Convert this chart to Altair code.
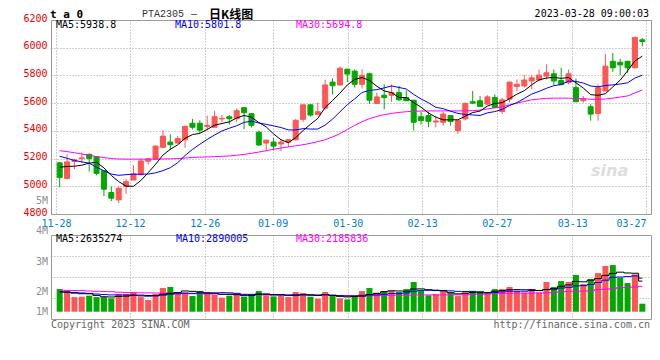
import altair as alt
import pandas as pd

# ---------------- data ----------------
opens = [5169, 5057, 5179, 5200, 5231, 5214, 5112, 4955, 4902, 4998,
         5045, 5083, 5181, 5195, 5281, 5319, 5312, 5336, 5455, 5455,
         5431, 5426, 5486, 5502, 5488, 5567, 5524, 5390, 5312, 5319,
         5305, 5319, 5336, 5483, 5588, 5519, 5564, 5752, 5731, 5845,
         5831, 5736, 5812, 5598, 5657, 5657, 5676, 5640, 5621, 5502,
         5510, 5464, 5462, 5510, 5402, 5486, 5610, 5617, 5593, 5640,
         5540, 5629, 5721, 5724, 5760, 5767, 5795, 5812, 5764, 5748,
         5712, 5617, 5574, 5526, 5688, 5902, 5895, 5902, 5855, 6057]
highs = [5175, 5231, 5200, 5245, 5235, 5219, 5115, 5000, 5000, 5055,
         5152, 5200, 5200, 5295, 5405, 5376, 5362, 5436, 5486, 5476,
         5510, 5545, 5514, 5514, 5562, 5570, 5527, 5402, 5335, 5350,
         5340, 5340, 5486, 5590, 5590, 5605, 5769, 5779, 5862, 5848,
         5843, 5843, 5819, 5676, 5736, 5736, 5724, 5693, 5624, 5538,
         5538, 5510, 5538, 5512, 5476, 5605, 5688, 5652, 5657, 5664,
         5640, 5755, 5771, 5802, 5802, 5843, 5879, 5843, 5855, 5843,
         5779, 5652, 5593, 5736, 5955, 5962, 5921, 5905, 6081, 6069]
lows = [4993, 5050, 5124, 5167, 5107, 5079, 4929, 4893, 4879, 4945,
        5045, 5080, 5157, 5190, 5280, 5262, 5310, 5279, 5410, 5381,
        5402, 5421, 5462, 5445, 5462, 5412, 5424, 5290, 5260, 5260,
        5255, 5283, 5331, 5462, 5502, 5514, 5552, 5662, 5728, 5752,
        5712, 5705, 5593, 5593, 5555, 5610, 5617, 5615, 5402, 5445,
        5426, 5426, 5438, 5438, 5379, 5474, 5593, 5574, 5588, 5567,
        5521, 5605, 5688, 5712, 5700, 5760, 5771, 5729, 5731, 5736,
        5608, 5605, 5474, 5474, 5686, 5826, 5802, 5819, 5852, 6010]
closes = [5064, 5176, 5190, 5205, 5200, 5093, 4979, 4914, 4986, 5033,
          5090, 5183, 5198, 5290, 5362, 5300, 5345, 5433, 5426, 5405,
          5440, 5502, 5490, 5488, 5545, 5531, 5440, 5298, 5333, 5290,
          5319, 5336, 5476, 5588, 5514, 5538, 5731, 5726, 5852, 5810,
          5736, 5800, 5621, 5645, 5640, 5676, 5624, 5617, 5462, 5474,
          5469, 5471, 5521, 5467, 5474, 5598, 5600, 5576, 5645, 5569,
          5624, 5752, 5736, 5767, 5783, 5802, 5819, 5760, 5733, 5812,
          5610, 5629, 5521, 5712, 5867, 5855, 5876, 5855, 6074, 6045]
ma5 = [5138, 5143, 5145, 5152, 5167, 5173, 5133, 5078, 5034, 5001,
       5000, 5041, 5098, 5159, 5225, 5267, 5299, 5346, 5373, 5382,
       5410, 5441, 5453, 5465, 5493, 5511, 5499, 5460, 5429, 5378,
       5336, 5315, 5351, 5402, 5447, 5490, 5569, 5619, 5672, 5731,
       5771, 5785, 5764, 5722, 5688, 5676, 5641, 5640, 5604, 5571,
       5529, 5499, 5479, 5480, 5480, 5506, 5532, 5543, 5579, 5598,
       5603, 5633, 5665, 5690, 5732, 5768, 5781, 5786, 5779, 5785,
       5747, 5709, 5661, 5657, 5668, 5717, 5766, 5833, 5905, 5939]
ma10 = [5217, 5202, 5186, 5176, 5167, 5138, 5112, 5088, 5079, 5084,
        5087, 5087, 5088, 5097, 5113, 5134, 5170, 5222, 5266, 5303,
        5338, 5370, 5399, 5419, 5437, 5461, 5470, 5457, 5447, 5436,
        5424, 5407, 5406, 5416, 5413, 5413, 5442, 5485, 5537, 5589,
        5631, 5677, 5692, 5697, 5710, 5724, 5713, 5702, 5663, 5630,
        5603, 5570, 5560, 5542, 5526, 5518, 5515, 5511, 5530, 5539,
        5555, 5583, 5604, 5634, 5665, 5685, 5707, 5726, 5735, 5759,
        5757, 5745, 5724, 5718, 5727, 5732, 5738, 5747, 5781, 5802]
ma30 = [5257, 5250, 5242, 5233, 5224, 5214, 5207, 5200, 5197, 5196,
        5196, 5196, 5196, 5196, 5197, 5198, 5200, 5204, 5208, 5210,
        5212, 5214, 5216, 5219, 5224, 5230, 5238, 5247, 5257, 5267,
        5276, 5284, 5292, 5300, 5310, 5322, 5336, 5356, 5380, 5410,
        5440, 5466, 5488, 5504, 5517, 5526, 5533, 5538, 5541, 5543,
        5544, 5544, 5544, 5544, 5544, 5545, 5546, 5550, 5558, 5566,
        5574, 5588, 5600, 5612, 5624, 5630, 5634, 5636, 5636, 5636,
        5634, 5632, 5628, 5627, 5630, 5636, 5644, 5652, 5674, 5695]
# volume in millions of lots
volume_m = [1.95, 1.84, 1.26, 1.29, 1.38, 1.26, 1.26, 1.15, 1.52, 1.52,
            1.70, 1.26, 1.01, 1.52, 2.04, 2.13, 1.58, 1.67, 1.35, 1.78,
            1.70, 1.44, 1.21, 1.38, 1.61, 1.29, 1.52, 1.78, 1.41, 1.32,
            1.35, 1.26, 1.70, 1.61, 1.29, 1.12, 1.70, 1.35, 1.15, 1.06,
            1.35, 1.78, 2.04, 1.64, 1.78, 1.78, 1.70, 1.95, 2.56, 1.84,
            1.41, 1.52, 1.78, 1.64, 1.35, 1.67, 1.78, 1.70, 1.70, 1.95,
            1.95, 2.13, 1.78, 1.64, 1.95, 1.64, 2.56, 2.13, 2.64, 2.56,
            3.16, 2.39, 2.82, 3.33, 3.94, 4.02, 2.93, 2.47, 3.22, 0.69]
vol_ma5 = [1.70, 1.68, 1.60, 1.55, 1.544, 1.406, 1.29, 1.268, 1.314, 1.342,
           1.43, 1.43, 1.402, 1.402, 1.506, 1.592, 1.656, 1.788, 1.754, 1.702,
           1.616, 1.588, 1.496, 1.502, 1.468, 1.386, 1.402, 1.516, 1.522, 1.464,
           1.476, 1.424, 1.408, 1.448, 1.442, 1.396, 1.484, 1.414, 1.322, 1.276,
           1.322, 1.338, 1.476, 1.574, 1.718, 1.804, 1.788, 1.77, 1.954, 1.966,
           1.892, 1.856, 1.822, 1.638, 1.54, 1.592, 1.644, 1.628, 1.64, 1.76,
           1.816, 1.886, 1.902, 1.89, 1.89, 1.828, 1.914, 1.984, 2.184, 2.306,
           2.61, 2.576, 2.714, 2.852, 3.128, 3.30, 3.408, 3.338, 3.316, 2.635]
vol_ma10 = [1.72, 1.70, 1.66, 1.62, 1.58, 1.52, 1.48, 1.45, 1.44, 1.443,
            1.418, 1.36, 1.335, 1.358, 1.424, 1.511, 1.543, 1.595, 1.578, 1.604,
            1.604, 1.622, 1.642, 1.628, 1.585, 1.501, 1.495, 1.506, 1.512, 1.466,
            1.431, 1.413, 1.462, 1.485, 1.453, 1.436, 1.454, 1.411, 1.385, 1.359,
            1.359, 1.411, 1.445, 1.448, 1.497, 1.563, 1.563, 1.623, 1.764, 1.842,
            1.848, 1.822, 1.796, 1.796, 1.753, 1.742, 1.75, 1.725, 1.639, 1.65,
            1.704, 1.765, 1.765, 1.765, 1.825, 1.822, 1.90, 1.943, 2.037, 2.098,
            2.219, 2.245, 2.349, 2.518, 2.717, 2.955, 2.992, 3.026, 3.084, 2.890]
vol_ma30 = [1.84, 1.84, 1.83, 1.82, 1.78, 1.76, 1.74, 1.72, 1.68, 1.66,
            1.64, 1.63, 1.62, 1.61, 1.60, 1.59, 1.57, 1.56, 1.55, 1.54,
            1.53, 1.52, 1.51, 1.50, 1.48, 1.47, 1.46, 1.45, 1.45, 1.44,
            1.44, 1.43, 1.43, 1.43, 1.42, 1.42, 1.42, 1.41, 1.40, 1.38,
            1.37, 1.37, 1.37, 1.38, 1.39, 1.41, 1.42, 1.43, 1.44, 1.45,
            1.45, 1.45, 1.45, 1.45, 1.45, 1.46, 1.48, 1.50, 1.52, 1.56,
            1.58, 1.59, 1.60, 1.60, 1.61, 1.62, 1.63, 1.65, 1.72, 1.75,
            1.76, 1.78, 1.80, 1.90, 1.94, 1.98, 2.08, 2.10, 2.13, 2.19]

# legend texts as printed in the reference
price_legend = ["MA5:5938.8", "MA10:5801.8", "MA30:5694.8"]
volume_legend = ["MA5:2635274", "MA10:2890005", "MA30:2185836"]

date_ticks = [-0.5, 9.54, 19.67, 28.87, 39.06, 49.14, 59.27, 69.5, 79.5]
date_labels = ["11-28", "12-12", "12-26", "01-09", "01-30", "02-13", "02-27", "03-13", "03-27"]
price_ticks = [4800, 5000, 5200, 5400, 5600, 5800, 6000, 6200]
vol_grid = [1.181, 2.992, 4.802]
vol_label_text = ["5M", "4M", "3M", "2M", "1M"]
vol_label_pos = [9.54, 6.93, 4.31, 1.72, 0.0]

# ---------------- styling ----------------
MONO = "DejaVu Sans Mono"
RED = "#ff5555"
GREEN = "#00a800"
GRID = "#a0a0a0"
BLUE = "#0000ff"
MAGENTA = "#ff00ff"
DATE_COLOR = "#0080d0"
PRICE_LBL = "#ee0000"

n = len(closes)
df = pd.DataFrame({
    "i": list(range(n)), "open": opens, "high": highs, "low": lows, "close": closes,
    "ma5": ma5, "ma10": ma10, "ma30": ma30,
    "vol": volume_m, "vma5": vol_ma5, "vma10": vol_ma10, "vma30": vol_ma30,
})
df["dir"] = ["up" if c >= o else "down" for o, c in zip(opens, closes)]

color_scale = alt.Scale(domain=["up", "down"], range=[RED, GREEN])
x_scale = alt.Scale(domain=[-0.5, 79.5], nice=False, zero=False)

label_expr = ("[" + ",".join("'%s'" % l for l in date_labels) + "][indexof(["
              + ",".join(str(t) for t in date_ticks) + "], datum.value)]")

x_price = alt.X("i:Q", scale=x_scale, title=None, axis=alt.Axis(
    values=date_ticks, labelExpr=label_expr, grid=True, gridColor=GRID, gridDash=[1, 2],
    ticks=False, tickSize=0, domain=False, labelColor=DATE_COLOR, labelFont=MONO,
    labelFontSize=10, labelPadding=4, labelBaseline="top", labelFlush=False,
    labelOverlap=False,
    labelAlign={"condition": {"test": "datum.value > 79", "value": "right"}, "value": "center"}))

price_scale = alt.Scale(domain=[4800, 6200], nice=False, zero=False)
price_axis = alt.Axis(values=price_ticks, grid=True, gridColor=GRID, gridDash=[1, 2],
                      ticks=False, tickSize=0, domain=False, labelColor=PRICE_LBL,
                      labelFont=MONO, labelFontSize=10, labelPadding=4,
                      labelBaseline="alphabetic", labelOffset=1, format="d",
                      labelOverlap=False)

def yp(field):
    return alt.Y(field, type="quantitative", scale=price_scale, axis=price_axis, title=None)

def text(t, x, y, color="black", size=10, font=MONO, align="left", baseline="middle", **kw):
    return alt.Chart(alt.Data(values=[{}])).mark_text(
        text=t, color=color, fontSize=size, font=font, align=align, baseline=baseline, **kw
    ).encode(x=alt.value(x), y=alt.value(y))

base = alt.Chart(df)
color_enc = alt.Color("dir:N", scale=color_scale, legend=None)

wicks = base.mark_rule(strokeWidth=1).encode(x=x_price, y=yp("low"), y2="high", color=color_enc)
bodies = base.mark_bar(size=5, strokeWidth=1).encode(
    x=x_price, y=yp("open"), y2="close", color=color_enc,
    stroke=alt.Stroke("dir:N", scale=color_scale, legend=None))
l5 = base.mark_line(color="black", strokeWidth=1).encode(x=x_price, y=yp("ma5"))
l10 = base.mark_line(color=BLUE, strokeWidth=1).encode(x=x_price, y=yp("ma10"))
l30 = base.mark_line(color=MAGENTA, strokeWidth=1).encode(x=x_price, y=yp("ma30"))

anchor = alt.Chart(alt.Data(values=[{}])).mark_rule(color="white", strokeWidth=0.01).encode(
    x=alt.value(-42), x2=alt.value(-41), y=alt.value(-11))

price = alt.layer(
    anchor, wicks, bodies, l30, l10, l5,
    text(price_legend[0], 5, 5),
    text(price_legend[1], 124, 5, color=BLUE),
    text(price_legend[2], 245, 5, color=MAGENTA),
    text("t a 0", -1, -11, size=11, baseline="top", fontWeight="bold"),
    text("PTA2305", 91, -6, color="#333333", font="Liberation Mono"),
    text("\u2013", 143, -6, align="center", color="#333333"),
    text("日K线图", 158, -5, size=12, font="Noto Sans CJK SC", fontWeight="bold"),
    text("2023-03-28 09:00:03", 598, -6, align="right"),
    text("sina", 540, 156, color="#dddddd", size=16, font="DejaVu Sans",
         baseline="alphabetic", fontStyle="italic", fontWeight="bold"),
).properties(width=600, height=194)

# ---------------- volume panel ----------------
x_vol = alt.X("i:Q", scale=x_scale, title=None, axis=alt.Axis(
    values=date_ticks[1:-1], labels=False, grid=True, gridColor=GRID, gridDash=[1, 2],
    ticks=False, tickSize=0, domain=False))
vol_scale = alt.Scale(domain=[-0.629, 6.612], nice=False, zero=False)
vol_axis = alt.Axis(values=vol_grid, labels=False, grid=True, gridColor=GRID, gridDash=[1, 2],
                    ticks=False, tickSize=0, domain=False)

def yv(field):
    return alt.Y(field, type="quantitative", scale=vol_scale, axis=vol_axis, title=None)

vbars = base.mark_bar(size=6).encode(x=x_vol, y=yv("vol"), y2=alt.datum(0), color=color_enc)
v5 = base.mark_line(color="black", strokeWidth=1, interpolate="step").encode(x=x_vol, y=yv("vma5"))
v10 = base.mark_line(color=BLUE, strokeWidth=1, interpolate="step").encode(x=x_vol, y=yv("vma10"))
v30 = base.mark_line(color=MAGENTA, strokeWidth=1, interpolate="step").encode(x=x_vol, y=yv("vma30"))

vlabels = alt.Chart(pd.DataFrame({"label": vol_label_text, "pos": vol_label_pos})).mark_text(
    color="#909090", fontSize=10, font=MONO, align="right", baseline="middle"
).encode(x=alt.value(-3), y=yv("pos"), text="label:N")

volume = alt.layer(
    vbars, v30, v10, v5, vlabels,
    text(volume_legend[0], 5, 4),
    text(volume_legend[1], 125, 4, color=BLUE),
    text(volume_legend[2], 245, 4, color=MAGENTA),
    text("Copyright 2023 SINA.COM", 0, 90, color="#666666"),
    text("http://finance.sina.com.cn", 599, 90, color="#666666", align="right"),
).properties(width=600, height=84)

chart = alt.vconcat(price, volume, spacing=21, bounds="flush").properties(
    padding={"left": 0, "top": 0, "right": 0, "bottom": 0}
).configure_view(stroke="#999999", strokeWidth=1)

chart.save("out.html", embed_options={"renderer": "svg", "actions": False})
